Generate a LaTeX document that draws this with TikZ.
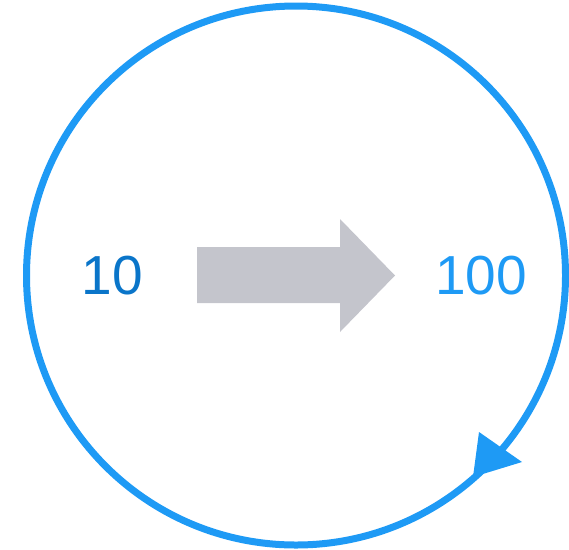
\documentclass[tikz,border=0pt]{standalone}
\usepackage{fontspec}
\setmainfont{Liberation Sans}
\usepackage{xcolor}
\definecolor{ringblue}{RGB}{30,154,245}
\definecolor{deepblue}{RGB}{10,117,201}
\definecolor{shaftgray}{RGB}{196,197,204}

\begin{document}
\begin{tikzpicture}[x=1pt, y=-1pt,
    ring/.style={draw=ringblue, line width=7pt},
    numlabel/.style={font=\fontsize{55}{62}\selectfont, inner sep=0pt}
]
    \useasboundingbox (0,0) rectangle (569,549);
    \draw[ring] (296,275.5) circle (269.5);
    % marker on the ring
    \fill[ringblue] (479,432) -- (522,462) -- (473,477) -- cycle;
    \node[numlabel, text=deepblue] (ten) at (112.5,276) {10};
    \node[numlabel, text=ringblue] (hundred) at (481,276) {100};
    % big gray arrow
    \fill[shaftgray] (197,247) -- (340,247) -- (340,219) -- (395,275.5)
        -- (340,332) -- (340,303) -- (197,303) -- cycle;
\end{tikzpicture}
\end{document}
